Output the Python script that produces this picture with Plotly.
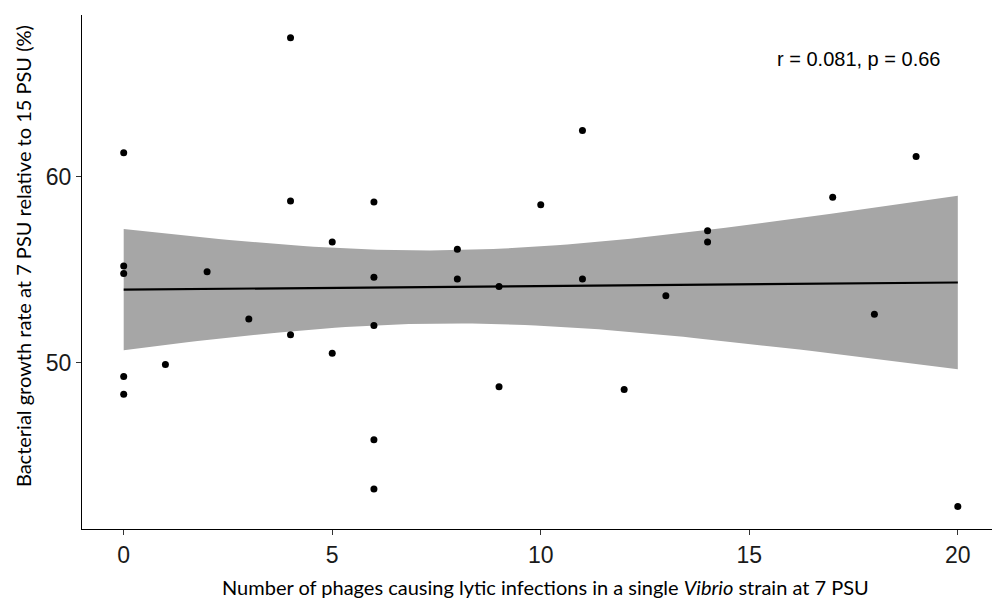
import numpy as np
import plotly.graph_objects as go

# Data
phages = [0, 0, 0, 0, 0, 1, 2, 3, 4, 4, 4, 5, 5, 6, 6, 6, 6, 6,
          8, 8, 9, 9, 10, 11, 11, 12, 13, 14, 14, 17, 18, 19, 20]
growth = [61.3, 55.2, 54.8, 49.25, 48.3, 49.9, 54.9, 52.35, 67.5, 58.7, 51.5,
          56.5, 50.5, 58.65, 54.6, 52.0, 45.85, 43.2,
          56.1, 54.5, 54.1, 48.7, 58.5, 62.5, 54.5, 48.55, 53.6, 57.1, 56.5,
          58.9, 52.6, 61.1, 42.25]
x_ticks = [0, 5, 10, 15, 20]
y_ticks = [50, 60]
stat_label = "r = 0.081, p = 0.66"
x_title = "Number of phages causing lytic infections in a single <i>Vibrio</i> strain at 7 PSU"
y_title = "Bacterial growth rate at 7 PSU relative to 15 PSU (%)"
T_975_DF31 = 2.0395  # t quantile for 95% CI, df = n - 2

# Linear fit with 95% confidence band (as ggplot geom_smooth(method="lm"))
x = np.array(phages, dtype=float)
y = np.array(growth, dtype=float)
n = len(x)
slope, intercept = np.polyfit(x, y, 1)
resid = y - (slope * x + intercept)
s = np.sqrt(np.sum(resid ** 2) / (n - 2))
xbar = x.mean()
sxx = np.sum((x - xbar) ** 2)
xs = np.linspace(x.min(), x.max(), 80)
fit = slope * xs + intercept
se = s * np.sqrt(1.0 / n + (xs - xbar) ** 2 / sxx)
upper = fit + T_975_DF31 * se
lower = fit - T_975_DF31 * se

fig = go.Figure()
fig.add_trace(go.Scatter(
    x=np.concatenate([xs, xs[::-1]]), y=np.concatenate([upper, lower[::-1]]),
    fill="toself", fillcolor="#A6A6A6", line=dict(width=0),
    mode="lines", hoverinfo="skip", showlegend=False))
fig.add_trace(go.Scatter(x=xs, y=fit, mode="lines",
                         line=dict(color="black", width=2.2), showlegend=False))
fig.add_trace(go.Scatter(x=phages, y=growth, mode="markers",
                         marker=dict(color="black", size=7), showlegend=False))

tick_font = dict(family="Liberation Sans, Arial, sans-serif", size=23, color="#1a1a1a")
fig.update_xaxes(range=[-1, 20.82], tickvals=x_ticks, ticks="outside", ticklen=5,
                 tickcolor="#333333", showline=True, linecolor="black", linewidth=1,
                 showgrid=False, zeroline=False, tickfont=tick_font)
fig.update_yaxes(range=[41.04, 68.72], tickvals=y_ticks, ticks="outside", ticklen=5,
                 tickcolor="#333333", showline=True, linecolor="black", linewidth=1,
                 showgrid=False, zeroline=False, tickfont=tick_font)

title_font = dict(family="Lato, Noto Sans, sans-serif", size=20, color="black")
fig.add_annotation(text=stat_label, x=17.62, y=66.37, xref="x", yref="y",
                   showarrow=False, xanchor="center", yanchor="middle",
                   font=dict(family="Liberation Sans, Arial, sans-serif", size=20, color="black"))
fig.add_annotation(text=x_title, x=0.5088, y=-0.1128, xref="paper", yref="paper",
                   showarrow=False, xanchor="center", yanchor="middle", font=title_font)
fig.add_annotation(text=y_title, x=-0.0648, y=0.531, xref="paper", yref="paper",
                   showarrow=False, xanchor="center", yanchor="middle", textangle=-90,
                   font=title_font)

fig.update_layout(width=992, height=601, margin=dict(l=82, r=0, t=15, b=72),
                  plot_bgcolor="white", paper_bgcolor="white", showlegend=False)
fig.write_html("out.html")
